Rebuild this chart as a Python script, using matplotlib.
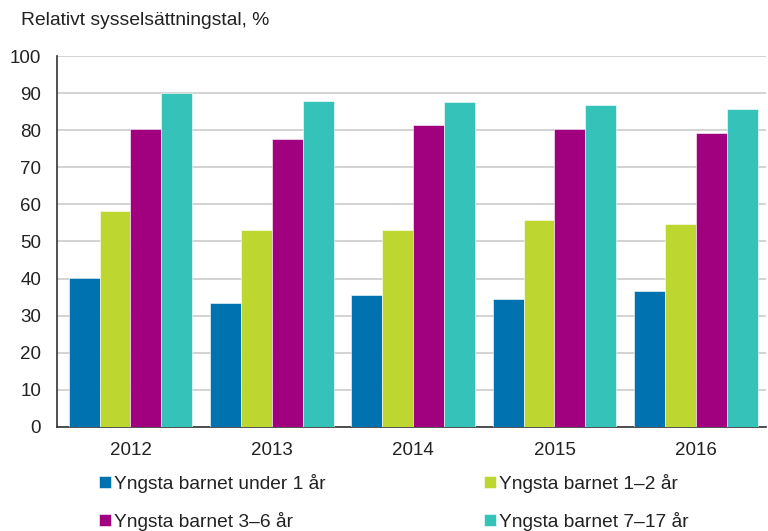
import numpy as np
import matplotlib
matplotlib.use('Agg')
import matplotlib.pyplot as plt

# Data
years = ['2012', '2013', '2014', '2015', '2016']
under_1 = [40.1, 33.5, 35.7, 34.4, 36.6]
age_1_2 = [58.1, 53.0, 53.2, 55.9, 54.6]
age_3_6 = [80.2, 77.6, 81.5, 80.2, 79.3]
age_7_17 = [89.9, 88.0, 87.6, 86.7, 85.8]
series_labels = ['Yngsta barnet under 1 år', 'Yngsta barnet 1–2 år',
                 'Yngsta barnet 3–6 år', 'Yngsta barnet 7–17 år']
colors = ['#0072B0', '#BED630', '#A1007E', '#35C2B9']

plt.rcParams['font.family'] = ['Liberation Sans', 'DejaVu Sans']
fs = 13.5

fig = plt.figure(figsize=(7.68, 5.31), dpi=100)
ax = fig.add_axes([0.0742, 0.196, 0.9238, 0.6985])

x = np.arange(len(years))
width = 0.219
series = [under_1, age_1_2, age_3_6, age_7_17]
bars = []
for i, vals in enumerate(series):
    b = ax.bar(x + (i - 1.5) * width, vals, width, color=colors[i],
               edgecolor='white', linewidth=0.4, label=series_labels[i], zorder=3)
    bars.append(b)

ax.set_xlim(-0.52, 4.5)
ax.set_ylim(0, 100)
ax.set_yticks(range(0, 101, 10))
ax.set_xticks(x)
ax.set_xticklabels(years)
ax.tick_params(axis='both', length=0, labelsize=fs, colors='#222222')
ax.tick_params(axis='y', pad=11.5)
ax.tick_params(axis='x', pad=11)

ax.grid(True, axis='y', color='#cccccc', linewidth=1.2, zorder=0)
for s in ['top', 'right']:
    ax.spines[s].set_visible(False)
ax.spines['left'].set_color('#333333')
ax.spines['bottom'].set_color('#333333')
ax.spines['left'].set_linewidth(1.2)
ax.spines['bottom'].set_linewidth(1.2)

fig.text(0.027, 0.962, 'Relativt sysselsättningstal, %', fontsize=13.9,
         color='#222222', va='center', ha='left')

order = [0, 2, 1, 3]
leg = fig.legend([bars[i] for i in order], [series_labels[i] for i in order],
                 ncol=2, loc='upper left', bbox_to_anchor=(0.129, 0.108),
                 frameon=False, fontsize=13.8, handlelength=0.6, handleheight=0.6,
                 handletextpad=0.16, columnspacing=8.3, labelspacing=1.0,
                 borderaxespad=0, borderpad=0)
for t in leg.get_texts():
    t.set_color('#222222')

fig.savefig('out.png', dpi=100)
